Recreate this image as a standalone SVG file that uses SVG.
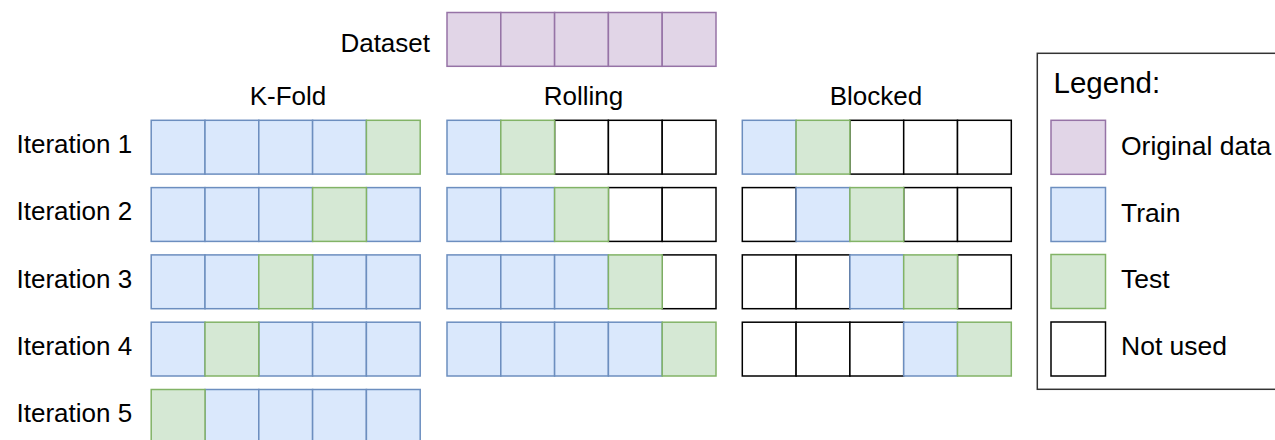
<svg xmlns="http://www.w3.org/2000/svg" width="1275" height="440" viewBox="0 0 1275 440">
  <style>
    text { font-family: "Liberation Sans", Arial, Helvetica, sans-serif; font-size: 26px; fill: #000; }
    .mid { text-anchor: middle; }
    .title { font-size: 29.5px; }
    .entry { font-size: 26.5px; }
    rect { stroke-width: 1.5; }
    .od { fill: #e1d5e7; stroke: #9673a6; }
    .tr { fill: #dae8fc; stroke: #6c8ebf; }
    .te { fill: #d5e8d4; stroke: #82b366; }
    .nu { fill: #ffffff; stroke: #000000; }
    .box { fill: #ffffff; stroke: #333333; }
  </style>
  <rect width="1275" height="440" fill="#ffffff" stroke="none"/>

  <!-- Original dataset strip -->
  <g id="dataset">
    <text x="430" y="52" text-anchor="end">Dataset</text>
    <rect class="od" x="447" y="12.5" width="53.8" height="53.8"/>
    <rect class="od" x="500.8" y="12.5" width="53.8" height="53.8"/>
    <rect class="od" x="554.6" y="12.5" width="53.8" height="53.8"/>
    <rect class="od" x="608.4" y="12.5" width="53.8" height="53.8"/>
    <rect class="od" x="662.2" y="12.5" width="53.8" height="53.8"/>
  </g>

  <!-- Column headings -->
  <g id="headings">
    <text class="mid" x="288" y="105">K-Fold</text>
    <text class="mid" x="583.5" y="105">Rolling</text>
    <text class="mid" x="876" y="105">Blocked</text>
  </g>

  <!-- Row labels -->
  <g id="iteration-labels">
    <text x="16.5" y="153">Iteration 1</text>
    <text x="16.5" y="220.3">Iteration 2</text>
    <text x="16.5" y="287.6">Iteration 3</text>
    <text x="16.5" y="354.9">Iteration 4</text>
    <text x="16.5" y="422.2">Iteration 5</text>
  </g>

  <!-- K-Fold: test fold moves right to left -->
  <g id="kfold-1">
    <rect class="tr" x="151.2" y="120.3" width="53.8" height="53.8"/>
    <rect class="tr" x="205" y="120.3" width="53.8" height="53.8"/>
    <rect class="tr" x="258.8" y="120.3" width="53.8" height="53.8"/>
    <rect class="tr" x="312.6" y="120.3" width="53.8" height="53.8"/>
    <rect class="te" x="366.4" y="120.3" width="53.8" height="53.8"/>
  </g>
  <g id="kfold-2">
    <rect class="tr" x="151.2" y="187.6" width="53.8" height="53.8"/>
    <rect class="tr" x="205" y="187.6" width="53.8" height="53.8"/>
    <rect class="tr" x="258.8" y="187.6" width="53.8" height="53.8"/>
    <rect class="tr" x="366.4" y="187.6" width="53.8" height="53.8"/>
    <rect class="te" x="312.6" y="187.6" width="53.8" height="53.8"/>
  </g>
  <g id="kfold-3">
    <rect class="tr" x="151.2" y="254.9" width="53.8" height="53.8"/>
    <rect class="tr" x="205" y="254.9" width="53.8" height="53.8"/>
    <rect class="tr" x="312.6" y="254.9" width="53.8" height="53.8"/>
    <rect class="tr" x="366.4" y="254.9" width="53.8" height="53.8"/>
    <rect class="te" x="258.8" y="254.9" width="53.8" height="53.8"/>
  </g>
  <g id="kfold-4">
    <rect class="tr" x="151.2" y="322.2" width="53.8" height="53.8"/>
    <rect class="tr" x="258.8" y="322.2" width="53.8" height="53.8"/>
    <rect class="tr" x="312.6" y="322.2" width="53.8" height="53.8"/>
    <rect class="tr" x="366.4" y="322.2" width="53.8" height="53.8"/>
    <rect class="te" x="205" y="322.2" width="53.8" height="53.8"/>
  </g>
  <g id="kfold-5">
    <rect class="tr" x="205" y="389.5" width="53.8" height="53.8"/>
    <rect class="tr" x="258.8" y="389.5" width="53.8" height="53.8"/>
    <rect class="tr" x="312.6" y="389.5" width="53.8" height="53.8"/>
    <rect class="tr" x="366.4" y="389.5" width="53.8" height="53.8"/>
    <rect class="te" x="151.2" y="389.5" width="53.8" height="53.8"/>
  </g>

  <!-- Rolling: growing training window -->
  <g id="rolling-1">
    <rect class="nu" x="554.6" y="120.3" width="53.8" height="53.8"/>
    <rect class="nu" x="608.4" y="120.3" width="53.8" height="53.8"/>
    <rect class="nu" x="662.2" y="120.3" width="53.8" height="53.8"/>
    <rect class="tr" x="447" y="120.3" width="53.8" height="53.8"/>
    <rect class="te" x="500.8" y="120.3" width="53.8" height="53.8"/>
  </g>
  <g id="rolling-2">
    <rect class="nu" x="608.4" y="187.6" width="53.8" height="53.8"/>
    <rect class="nu" x="662.2" y="187.6" width="53.8" height="53.8"/>
    <rect class="tr" x="447" y="187.6" width="53.8" height="53.8"/>
    <rect class="tr" x="500.8" y="187.6" width="53.8" height="53.8"/>
    <rect class="te" x="554.6" y="187.6" width="53.8" height="53.8"/>
  </g>
  <g id="rolling-3">
    <rect class="nu" x="662.2" y="254.9" width="53.8" height="53.8"/>
    <rect class="tr" x="447" y="254.9" width="53.8" height="53.8"/>
    <rect class="tr" x="500.8" y="254.9" width="53.8" height="53.8"/>
    <rect class="tr" x="554.6" y="254.9" width="53.8" height="53.8"/>
    <rect class="te" x="608.4" y="254.9" width="53.8" height="53.8"/>
  </g>
  <g id="rolling-4">
    <rect class="tr" x="447" y="322.2" width="53.8" height="53.8"/>
    <rect class="tr" x="500.8" y="322.2" width="53.8" height="53.8"/>
    <rect class="tr" x="554.6" y="322.2" width="53.8" height="53.8"/>
    <rect class="tr" x="608.4" y="322.2" width="53.8" height="53.8"/>
    <rect class="te" x="662.2" y="322.2" width="53.8" height="53.8"/>
  </g>

  <!-- Blocked: sliding train/test pair -->
  <g id="blocked-1">
    <rect class="nu" x="849.9" y="120.3" width="53.8" height="53.8"/>
    <rect class="nu" x="903.7" y="120.3" width="53.8" height="53.8"/>
    <rect class="nu" x="957.5" y="120.3" width="53.8" height="53.8"/>
    <rect class="tr" x="742.3" y="120.3" width="53.8" height="53.8"/>
    <rect class="te" x="796.1" y="120.3" width="53.8" height="53.8"/>
  </g>
  <g id="blocked-2">
    <rect class="nu" x="742.3" y="187.6" width="53.8" height="53.8"/>
    <rect class="nu" x="903.7" y="187.6" width="53.8" height="53.8"/>
    <rect class="nu" x="957.5" y="187.6" width="53.8" height="53.8"/>
    <rect class="tr" x="796.1" y="187.6" width="53.8" height="53.8"/>
    <rect class="te" x="849.9" y="187.6" width="53.8" height="53.8"/>
  </g>
  <g id="blocked-3">
    <rect class="nu" x="742.3" y="254.9" width="53.8" height="53.8"/>
    <rect class="nu" x="796.1" y="254.9" width="53.8" height="53.8"/>
    <rect class="nu" x="957.5" y="254.9" width="53.8" height="53.8"/>
    <rect class="tr" x="849.9" y="254.9" width="53.8" height="53.8"/>
    <rect class="te" x="903.7" y="254.9" width="53.8" height="53.8"/>
  </g>
  <g id="blocked-4">
    <rect class="nu" x="742.3" y="322.2" width="53.8" height="53.8"/>
    <rect class="nu" x="796.1" y="322.2" width="53.8" height="53.8"/>
    <rect class="nu" x="849.9" y="322.2" width="53.8" height="53.8"/>
    <rect class="tr" x="903.7" y="322.2" width="53.8" height="53.8"/>
    <rect class="te" x="957.5" y="322.2" width="53.8" height="53.8"/>
  </g>

  <!-- Legend -->
  <g id="legend">
    <rect class="box" x="1037.3" y="53.3" width="260" height="336"/>
    <text class="title" x="1053.5" y="93.3">Legend:</text>
    <rect class="od" x="1051" y="120.3" width="54.5" height="54"/>
    <text class="entry" x="1121" y="155">Original data</text>
    <rect class="tr" x="1051" y="187.5" width="54.5" height="54"/>
    <text class="entry" x="1121" y="221.5">Train</text>
    <rect class="te" x="1051" y="254.5" width="54.5" height="54"/>
    <text class="entry" x="1121" y="288">Test</text>
    <rect class="nu" x="1051" y="322" width="54.5" height="54"/>
    <text class="entry" x="1121" y="355.3">Not used</text>
  </g>
</svg>
